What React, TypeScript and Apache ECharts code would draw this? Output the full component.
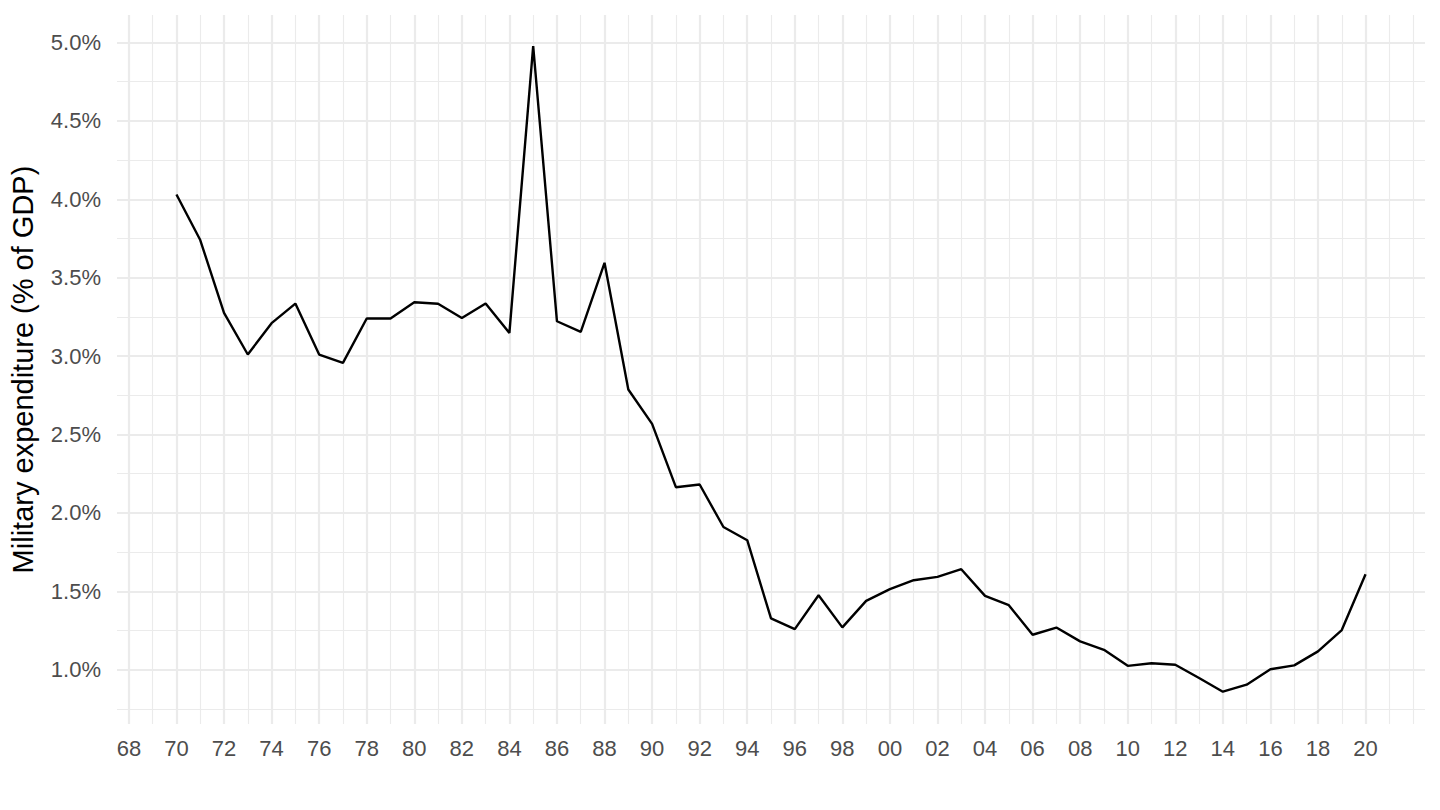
import React, { useEffect, useRef } from "react";
import * as echarts from "echarts";

const years = [
  1970, 1971, 1972, 1973, 1974, 1975, 1976, 1977, 1978, 1979,
  1980, 1981, 1982, 1983, 1984, 1985, 1986, 1987, 1988, 1989,
  1990, 1991, 1992, 1993, 1994, 1995, 1996, 1997, 1998, 1999,
  2000, 2001, 2002, 2003, 2004, 2005, 2006, 2007, 2008, 2009,
  2010, 2011, 2012, 2013, 2014, 2015, 2016, 2017, 2018, 2019, 2020,
];

const milexPct = [
  4.03, 3.74, 3.275, 3.01, 3.21, 3.335, 3.01, 2.957, 3.24, 3.24,
  3.343, 3.334, 3.243, 3.336, 3.148, 4.977, 3.222, 3.154, 3.595, 2.787,
  2.568, 2.164, 2.181, 1.91, 1.826, 1.327, 1.259, 1.475, 1.27, 1.439,
  1.514, 1.571, 1.592, 1.641, 1.471, 1.412, 1.223, 1.269, 1.181, 1.127,
  1.025, 1.041, 1.032, 0.947, 0.86, 0.905, 1.003, 1.028, 1.117, 1.253, 1.609,
];

const xMajorTicks = [
  1968, 1970, 1972, 1974, 1976, 1978, 1980, 1982, 1984, 1986, 1988, 1990,
  1992, 1994, 1996, 1998, 2000, 2002, 2004, 2006, 2008, 2010, 2012, 2014,
  2016, 2018, 2020,
];
const xMinorTicks = [
  1969, 1971, 1973, 1975, 1977, 1979, 1981, 1983, 1985, 1987, 1989, 1991,
  1993, 1995, 1997, 1999, 2001, 2003, 2005, 2007, 2009, 2011, 2013, 2015,
  2017, 2019, 2021, 2022,
];
const yMajorTicks = [1.0, 1.5, 2.0, 2.5, 3.0, 3.5, 4.0, 4.5, 5.0];
const yMinorTicks = [0.75, 1.25, 1.75, 2.25, 2.75, 3.25, 3.75, 4.25, 4.75];

const yTitle = "Military expenditure (% of GDP)";

const X_MIN = 1967.5;
const X_MAX = 2022.5;
const Y_MIN = 0.654;
const Y_MAX = 5.175;

const FONT = "'Liberation Sans', Arial, Helvetica, sans-serif";
const GRID = "#EBEBEB";

export default function App() {
  const ref = useRef<HTMLDivElement>(null);

  useEffect(() => {
    if (!ref.current) return;
    const chart = echarts.init(ref.current, undefined, { renderer: "svg" });

    const baseX = {
      type: "value" as const,
      min: X_MIN,
      max: X_MAX,
      position: "bottom" as const,
      axisLine: { show: false },
    };
    const baseY = {
      type: "value" as const,
      min: Y_MIN,
      max: Y_MAX,
      position: "left" as const,
      axisLine: { show: false },
    };

    chart.setOption({
      animation: false,
      backgroundColor: "#FFFFFF",
      grid: { left: 116.7, right: 15, top: 15, bottom: 86, containLabel: false },
      xAxis: [
        {
          ...baseX,
          axisTick: { show: false, customValues: xMajorTicks },
          axisLabel: {
            customValues: xMajorTicks,
            formatter: (v: number) => String(Math.round(v) % 100).padStart(2, "0"),
            color: "#4D4D4D",
            fontSize: 22,
            fontFamily: FONT,
            margin: 13,
          },
          splitLine: { show: true, lineStyle: { color: GRID, width: 2.2 } },
        },
        {
          ...baseX,
          axisTick: { show: false, customValues: xMinorTicks },
          axisLabel: { show: false, customValues: xMinorTicks },
          splitLine: { show: true, lineStyle: { color: GRID, width: 1.1 } },
        },
      ],
      yAxis: [
        {
          ...baseY,
          name: yTitle,
          nameLocation: "middle",
          nameGap: 80,
          nameTextStyle: { color: "#000000", fontSize: 29, fontFamily: FONT },
          axisTick: { show: false, customValues: yMajorTicks },
          axisLabel: {
            customValues: yMajorTicks,
            formatter: (v: number) => v.toFixed(1) + "%",
            color: "#4D4D4D",
            fontSize: 22,
            fontFamily: FONT,
            margin: 16,
          },
          splitLine: { show: true, lineStyle: { color: GRID, width: 2.2 } },
        },
        {
          ...baseY,
          axisTick: { show: false, customValues: yMinorTicks },
          axisLabel: { show: false, customValues: yMinorTicks },
          splitLine: { show: true, lineStyle: { color: GRID, width: 1.1 } },
        },
      ],
      series: [
        {
          type: "line",
          xAxisIndex: 0,
          yAxisIndex: 0,
          data: years.map((y, i) => [y, milexPct[i]]),
          showSymbol: false,
          symbol: "none",
          lineStyle: { color: "#000000", width: 2.4 },
          z: 5,
        },
      ],
    });

    return () => chart.dispose();
  }, []);

  return (
    <div
      ref={ref}
      style={{ position: "absolute", left: 0, top: 0, width: 1440, height: 810 }}
    />
  );
}
